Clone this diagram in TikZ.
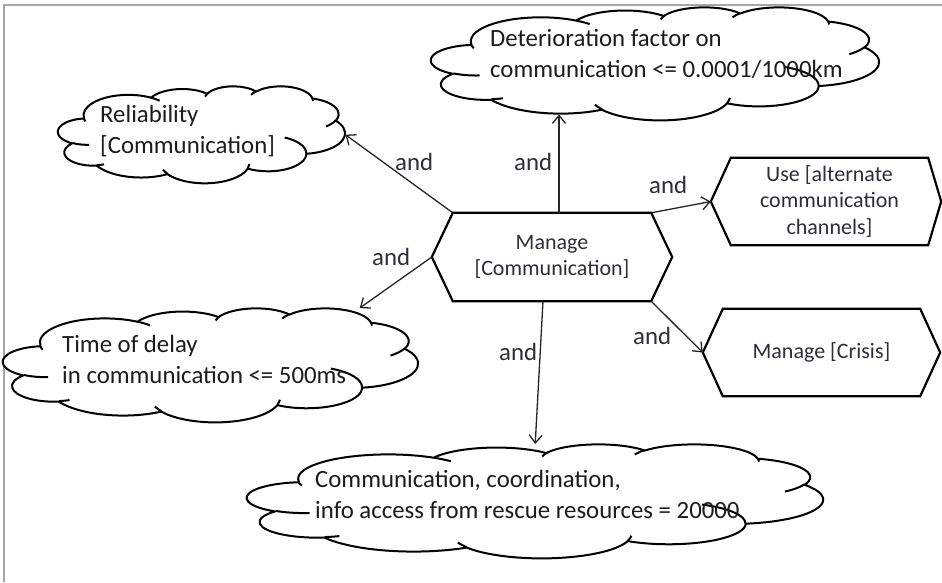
\documentclass[tikz,border=0pt]{standalone}
\usepackage{fontspec}
\setmainfont{Carlito}
\usetikzlibrary{arrows.meta,calc}

\definecolor{cloudink}{HTML}{1C1C1C}
\definecolor{hexink}{HTML}{2E2E3A}
\definecolor{framegrey}{HTML}{A6A6A6}

\newcommand\cloudfont{\fontsize{24.8}{31}\selectfont}
\newcommand\hexfont{\fontsize{22}{26.5}\selectfont}

% elliptical arc with DrawingML-style (visual) start angle and sweep
\newcommand\oarc[4]{arc[x radius=#1, y radius=#2,
  start angle={atan2(#1*sin(#3),#2*cos(#3))},
  delta angle={mod(atan2(#1*sin(#3+#4),#2*cos(#3+#4))-atan2(#1*sin(#3),#2*cos(#3))+720,360)}]}

% cloud outline in a 4320 x 4320 box
\newcommand\cloudoutline{(390.0,1437.0)
  \oarc{675.3}{919.0}{-190.4875}{123.7805}
  \oarc{533.3}{726.7}{-144.1024}{89.9452}
  \oarc{436.5}{594.5}{-145.8079}{99.7230}
  \oarc{485.7}{659.5}{-130.9861}{117.2417}
  \oarc{533.3}{727.3}{-78.7089}{109.0269}
  \oarc{677.5}{922.0}{-46.2673}{130.2690}
  \oarc{578.5}{786.7}{0.6250}{114.0333}
  \oarc{675.2}{921.5}{22.4516}{115.1726}
  \oarc{772.0}{1054.3}{66.2426}{75.7110}
  \oarc{436.0}{591.8}{-274.9421}{146.7356}
  \oarc{434.5}{594.5}{-246.8285}{152.5189} -- cycle}

% the small inner creases of the cloud
\newcommand\cloudcreases{(469.3,2617.7) \oarc{434.5}{594.5}{86.7420}{26.4295}
  (692.8,3489.9) \oarc{436.0}{591.8}{73.6105}{11.4475}
  (1647.8,3909.0) \oarc{675.2}{921.5}{137.6242}{14.0811}
  (2882.7,3475.1) \oarc{675.2}{921.5}{6.4533}{15.9984}
  (3412.9,2295.4) \oarc{578.5}{786.7}{-70.2924}{70.9174}
  (4179.8,1535.4) \oarc{533.3}{727.3}{30.3180}{27.7515}
  (3832.4,542.6) \oarc{485.7}{659.5}{-13.7443}{14.8589}
  (2907.8,395.2) \oarc{485.7}{659.5}{-149.1815}{18.1954}
  (2214.1,472.0) \oarc{436.5}{594.5}{-163.4943}{17.6864}
  (1400.0,519.2) \oarc{675.3}{919.0}{-66.7070}{12.3194}
  (412.7,1578.9) \oarc{675.3}{919.0}{153.5994}{11.8510}}

% #1 node name, #2 width, #3 height
\newcommand\drawcloud[3]{%
  \begin{scope}[shift={(#1.north west)}, x={#2pt/4320}, y={-#3pt/4320},
                line width=2pt, line join=round]
    \filldraw[fill=white] \cloudoutline;
    \draw \cloudcreases;
  \end{scope}}

% #1 node name, #2 left point depth, #3 right point depth
\newcommand\hexoutline[3]{%
  \draw[shapeline] (#1.north west) -- (#1.north east) -- ([xshift=#3pt]#1.east)
    -- (#1.south east) -- (#1.south west) -- ([xshift=-#2pt]#1.west) -- cycle;}

\tikzset{
  shapeline/.style={line width=2.2pt, draw=black},
  hexbox/.style={rectangle, inner sep=0pt, align=center, font=\hexfont, text=hexink},
  cloudbox/.style={rectangle, inner sep=0pt, anchor=north west},
  cloudtext/.style={anchor=base west, align=left, inner sep=0pt, font=\cloudfont, text=cloudink},
  andlabel/.style={anchor=base west, inner sep=0pt, font=\cloudfont, text=hexink},
  link/.style={line width=1.3pt, draw=black!85,
    -{Straight Barb[length=8pt,width=13pt,line width=1.3pt]}}
}

\begin{document}
\begin{tikzpicture}[x=1pt, y=-1pt]
  \useasboundingbox (0,0) rectangle (942,582);
  \fill[white] (0,0) rectangle (942,582);
  \draw[framegrey, line width=2pt] (4,582) -- (4,5) -- (942,5);

  % clouds (goals)
  \node[cloudbox, minimum width=287pt, minimum height=97pt] (rel) at (58,86) {};
  \node[cloudbox, minimum width=448pt, minimum height=113pt] (det) at (431,7) {};
  \node[cloudbox, minimum width=415pt, minimum height=114pt] (time) at (3,308) {};
  \node[cloudbox, minimum width=576pt, minimum height=114pt] (comm) at (247,444) {};
  \drawcloud{rel}{287}{97}
  \drawcloud{det}{448}{113}
  \drawcloud{time}{415}{114}
  \drawcloud{comm}{576}{114}

  % cloud texts (anchored at the baseline of their last line)
  \node[cloudtext] (reltext) at (100,153) {Reliability\\{}[Communication]};
  \node[cloudtext] (dettext) at (490,77) {Deterioration factor on\\communication <= 0.0001/1000km};
  \node[cloudtext] (timetext) at (62,383) {Time of delay\\in communication <= 500ms};
  \node[cloudtext] (commtext) at (315,518) {Communication, coordination,\\info access from rescue resources = 20000};

  % hexagons (tasks)
  \node[hexbox, minimum width=198pt, minimum height=88pt] (cc) at (552,257) {Manage\\{}[Communication]};
  \node[hexbox, minimum width=197pt, minimum height=87pt] (use) at (829.5,201.5) {Use [alternate\\communication\\channels]};
  \node[hexbox, minimum width=197pt, minimum height=87pt] (crisis) at (821.5,352.5) {Manage [Crisis]};
  \hexoutline{cc}{21}{21}
  \hexoutline{use}{20}{13}
  \hexoutline{crisis}{20}{20}

  % connectors
  \coordinate (ccup) at ([xshift=7pt]cc.north);
  \coordinate (ccdown) at ([xshift=-9pt]cc.south);
  \draw[link] (cc.north west) -- (rel.east);
  \draw[link] (ccup) -- ($(ccup |- det.south)+(0,-6)$);
  \draw[link] (cc.north east) -- ([xshift=-20pt]use.west);
  \draw[link] ([xshift=-21pt]cc.west) -- (time.21);
  \draw[link] (ccdown) -- (comm.north);
  \draw[link] (cc.south east) -- ([xshift=-20pt]crisis.west);

  % labels
  \node[andlabel] (l1) at (395,170) {and};
  \node[andlabel] (l2) at (514,170) {and};
  \node[andlabel] (l3) at (649,193) {and};
  \node[andlabel] (l4) at (372,265) {and};
  \node[andlabel] (l5) at (499,360) {and};
  \node[andlabel] (l6) at (633,344) {and};
\end{tikzpicture}
\end{document}
